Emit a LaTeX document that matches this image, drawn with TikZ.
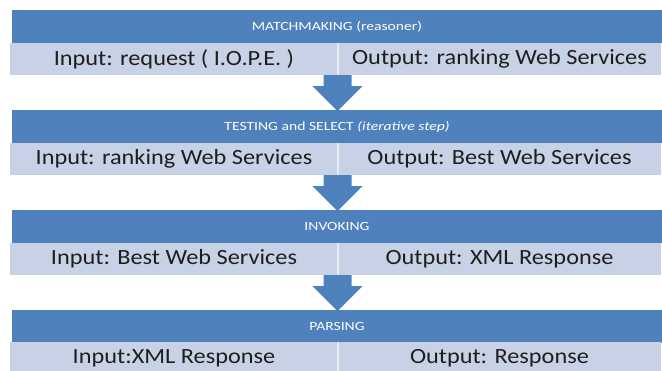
\documentclass[tikz,border=0pt]{standalone}
\usepackage{fontspec}
\setmainfont{Carlito}
\newfontfamily\headfont[FakeStretch=1.25]{Carlito}
\newfontfamily\cellfont[FakeStretch=1.12]{Carlito}
\usetikzlibrary{calc}
\definecolor{hdrblue}{HTML}{4F81BD}
\definecolor{rowblue}{HTML}{C8D2E6}
\definecolor{rowtext}{HTML}{1E1E1E}
\begin{document}
\begin{tikzpicture}[x=1pt,y=-1pt,
  header/.style={fill=hdrblue, text=white, anchor=north west,
    minimum width=650pt, minimum height=33pt, inner sep=0pt, outer sep=0pt,
    font=\headfont\fontsize{12.5}{15}\selectfont},
  cell/.style={fill=rowblue, text=rowtext, anchor=north west,
    minimum height=32pt, inner sep=0pt, outer sep=0pt,
    font=\cellfont\fontsize{21.7}{26}\selectfont},
  incell/.style={cell, minimum width=328pt},
  outcell/.style={cell, minimum width=323pt},
  divider/.style={draw=white!55!rowblue, line width=1.2pt},
  flow/.style={fill=hdrblue}]
\useasboundingbox (0,0) rectangle (662,370);

% stage headers
\node[header] (h1) at (12,10)  {MATCHMAKING (reasoner)};
\node[header] (h2) at (12,110) {TESTING and SELECT \textit{(iterative step)}};
\node[header] (h3) at (12,210) {INVOKING};
\node[header] (h4) at (12,310) {PARSING};

% input / output rows
\node[incell]  (in1)  at (10,43)  {Input: request ( I.O.P.E. )};
\node[outcell] (out1) at (338,43) {Output: ranking Web Services};
\node[incell]  (in2)  at (10,143) {Input: ranking Web Services};
\node[outcell] (out2) at (338,143) {Output: Best Web Services};
\node[incell]  (in3)  at (10,243) {Input: Best Web Services};
\node[outcell] (out3) at (338,243) {Output: XML Response};
\node[incell]  (in4)  at (10,342) {Input:XML Response};
\node[outcell] (out4) at (338,342) {Output: Response};

\foreach \i in {1,...,4}
  \draw[divider] (in\i.north east) -- (in\i.south east);

% block arrows between stages
\foreach \i/\j in {1/2,2/3,3/4}{
  \coordinate (s\i) at ($(in\i.south east)+(-0.5,0)$);
  \coordinate (e\i) at (h\j.north -| s\i);
  \fill[flow] ($(s\i)+(-14,0)$) -- ($(s\i)+(14,0)$) -- ($(s\i)+(14,11)$)
    -- ($(s\i)+(25,11)$) -- ($(e\i)+(0,1)$) -- ($(s\i)+(-25,11)$)
    -- ($(s\i)+(-14,11)$) -- cycle;
}
\end{tikzpicture}
\end{document}
